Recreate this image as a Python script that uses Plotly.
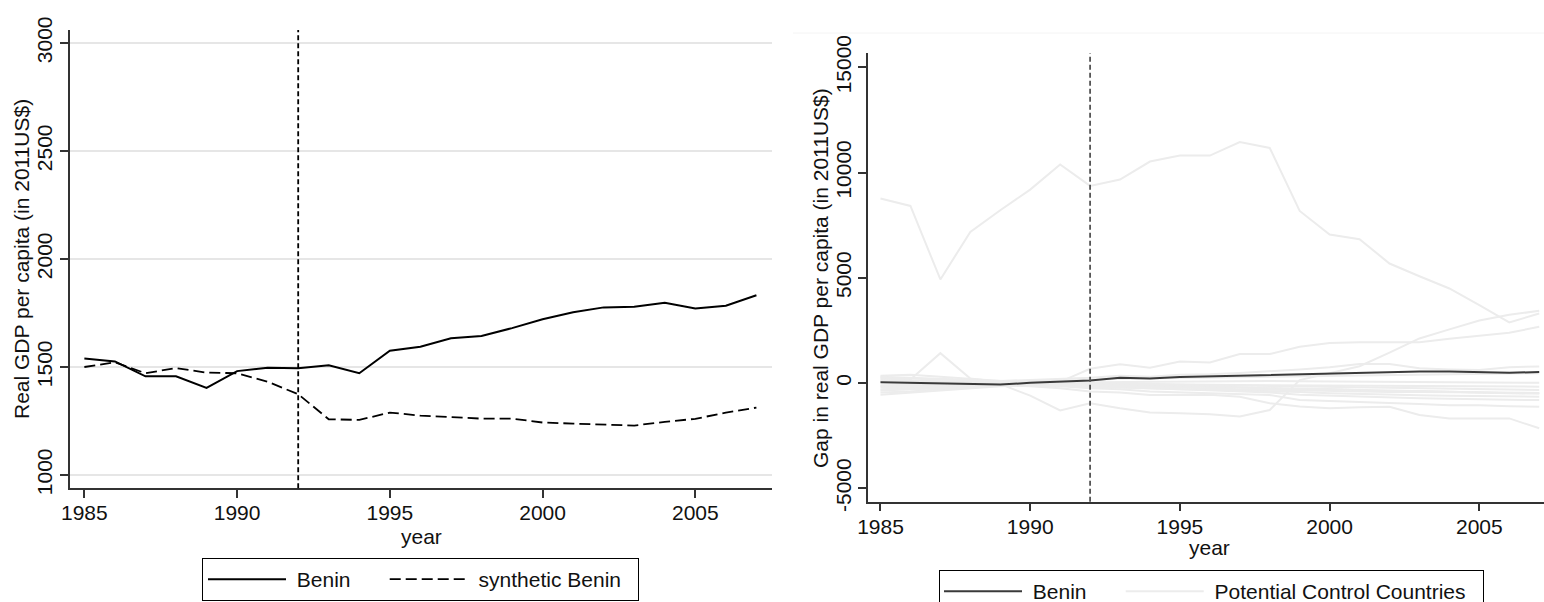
import plotly.graph_objects as go

W, H = 1544, 602

years = list(range(1985, 2008))
treatment_year = 1992

# Real GDP per capita (2011 US$)
benin_gdp = [1539, 1526, 1457, 1457, 1403, 1481, 1497, 1494, 1508, 1471, 1575, 1594,
             1633, 1644, 1680, 1721, 1753, 1776, 1779, 1797, 1771, 1784, 1832]
synthetic_gdp = [1500, 1522, 1471, 1495, 1474, 1471, 1432, 1374, 1258, 1255, 1289, 1275,
                 1268, 1261, 1261, 1243, 1238, 1234, 1229, 1246, 1260, 1289, 1312]

# Gap between actual and synthetic GDP per capita
benin_gap = [a - s for a, s in zip(benin_gdp, synthetic_gdp)]

# Placebo gaps for the donor-pool countries
placebo_gaps = [
    [8765, 8414, 4920, 7180, 8210, 9190, 10380, 9365, 9667, 10522, 10807, 10807,
     11453, 11168, 8177, 7056, 6833, 5679, 5076, 4492, 3700, 2878, 3305],
    [-150, -100, -60, -30, -50, -600, -1300, -960, -1200, -1400, -1430, -1480,
     -1590, -1280, 140, 470, 800, 1450, 2120, 2550, 2970, 3240, 3430],
    [100, 50, 30, 20, 0, 20, 60, 680, 890, 730, 1020, 980,
     1380, 1380, 1720, 1900, 1940, 1940, 1940, 2100, 2230, 2390, 2670],
    [220, 170, 1420, 220, 50, 30, 10, -30, -80, -50, -150, -120,
     -200, -250, -300, -280, -350, -400, -380, -420, -450, -480, -500],
    [350, 400, 300, 200, 100, 150, 200, 250, 350, 300, 400, 420,
     480, 550, 650, 750, 900, 900, 700, 650, 620, 750, 790],
    [-450, -400, -300, -200, -100, -150, -250, -400, -450, -570, -560, -550,
     -650, -960, -1110, -1200, -1150, -1125, -1520, -1680, -1680, -1680, -2150],
    [-300, -250, -200, -150, -80, -100, -150, -250, -300, -400, -450, -500,
     -550, -570, -810, -850, -900, -950, -1000, -1050, -1050, -1100, -1125],
    [-200, -180, -150, -100, -50, -60, -100, -150, -200, -250, -300, -350,
     -400, -450, -550, -600, -650, -700, -720, -750, -780, -800, -810],
    [-550, -450, -350, -250, -150, -100, -120, -180, -220, -280, -300, -320,
     -350, -380, -420, -480, -520, -560, -580, -600, -620, -640, -650],
    [150, 100, 80, 50, 20, 0, -20, -60, -100, -120, -150, -200,
     -220, -250, -280, -300, -350, -380, -400, -420, -450, -470, -490],
    [300, 250, 200, 150, 80, 60, 40, 20, -20, -50, -80, -100,
     -130, -150, -180, -200, -220, -250, -270, -290, -310, -320, -330],
    [-100, -80, -60, -40, -20, -10, 0, -20, -40, -60, -70, -80,
     -90, -100, -110, -120, -130, -140, -150, -160, -165, -170, -170],
    [50, 40, 30, 20, 10, 20, 30, 40, 60, 80, 90, 100,
     110, 100, 90, 80, 70, 60, 50, 40, 30, 20, 10],
    [250, 200, 150, 120, 80, 100, 120, 150, 200, 220, 250, 280,
     300, 320, 340, 360, 380, 400, 420, 440, 450, 460, 470],
    [-350, -300, -250, -180, -120, -80, -60, -100, -150, -200, -250, -280,
     -300, -320, -350, -380, -400, -420, -430, -440, -450, -460, -470],
]

left_yticks = [1000, 1500, 2000, 2500, 3000]
right_yticks = [-5000, 0, 5000, 10000, 15000]
xticks = [1985, 1990, 1995, 2000, 2005]

FONT = "Liberation Sans, Arial, sans-serif"
FS = 21
AXIS_COLOR = "#333333"
TEXT_COLOR = "#111111"
PLACEBO_COLOR = "#ececec"
NB = "\u00a0"


def px_x(v):
    return v / W


def px_y(v):
    return 1 - v / H


def entry(label, trailing):
    # legend label with Stata-like spacing around the key
    return NB + label + NB * trailing


fig = go.Figure()

# Left panel: Benin vs. synthetic Benin
fig.add_trace(go.Scatter(x=years, y=benin_gdp, mode="lines", name=entry("Benin", 5),
                         line=dict(color="black", width=2),
                         xaxis="x", yaxis="y", legend="legend"))
fig.add_trace(go.Scatter(x=years, y=synthetic_gdp, mode="lines",
                         name=entry("synthetic Benin", 2),
                         line=dict(color="black", width=1.8, dash="11px,5px"),
                         xaxis="x", yaxis="y", legend="legend"))

# Right panel: placebo gaps underneath, Benin on top
for i, gap in enumerate(placebo_gaps):
    fig.add_trace(go.Scatter(x=years, y=gap, mode="lines",
                             name=entry("Potential Control Countries", 2),
                             legendgroup="placebo", showlegend=(i == 0), legendrank=2,
                             line=dict(color=PLACEBO_COLOR, width=2),
                             xaxis="x2", yaxis="y2", legend="legend2"))
fig.add_trace(go.Scatter(x=years, y=benin_gap, mode="lines", name=entry("Benin", 5),
                         legendrank=1, line=dict(color="#3a3a3a", width=2),
                         xaxis="x2", yaxis="y2", legend="legend2"))

axis_common = dict(showline=True, linecolor=AXIS_COLOR, linewidth=1.5,
                   ticks="outside", ticklen=8, tickwidth=1.5, tickcolor=AXIS_COLOR,
                   tickfont=dict(size=FS, color=TEXT_COLOR, family=FONT),
                   zeroline=False, fixedrange=True, automargin=False)

legend_common = dict(orientation="h", xanchor="left", yanchor="top",
                     bordercolor="black", borderwidth=1, bgcolor="white",
                     font=dict(size=FS, family=FONT, color=TEXT_COLOR), itemwidth=78)

fig.update_layout(
    template="none",
    width=W, height=H,
    margin=dict(l=0, r=0, t=0, b=0, pad=0, autoexpand=False),
    paper_bgcolor="white", plot_bgcolor="white",
    font=dict(family=FONT, size=FS, color=TEXT_COLOR),
    xaxis=dict(axis_common, domain=[px_x(70), px_x(772)], range=[1984.53, 2007.51],
               tickvals=xticks, showgrid=False, anchor="y", ticklabelstandoff=-3),
    yaxis=dict(axis_common, domain=[px_y(488.3), px_y(30)], range=[938.4, 3060.2],
               tickvals=left_yticks, ticktext=[str(v) for v in left_yticks],
               tickangle=-90, showgrid=True, gridcolor="#e6e6e6", gridwidth=1.5,
               anchor="x", ticklabelstandoff=0),
    xaxis2=dict(axis_common, domain=[px_x(867.5), 1.0], range=[1984.566, 2007.16],
                tickvals=xticks, showgrid=False, anchor="y2", ticklabelstandoff=-3),
    yaxis2=dict(axis_common, domain=[px_y(501.7), px_y(53.3)], range=[-5636, 15665],
                tickvals=right_yticks, ticktext=[str(v) for v in right_yticks],
                tickangle=-90, showgrid=False, anchor="x2", ticklabelstandoff=-2),
    legend=dict(legend_common, x=px_x(202), y=px_y(558)),
    legend2=dict(legend_common, x=px_x(939), y=px_y(570)),
    showlegend=True,
)

# Treatment year markers
fig.add_shape(type="line", x0=treatment_year, x1=treatment_year, xref="x",
              y0=0, y1=1, yref="y domain",
              line=dict(color="black", width=1.8, dash="5px,3px"))
fig.add_shape(type="line", x0=treatment_year, x1=treatment_year, xref="x2",
              y0=0, y1=1, yref="y2 domain",
              line=dict(color="#555555", width=1.8, dash="5px,3px"))

# Faint frame edge above the right-hand graph
fig.add_shape(type="line", x0=px_x(793), x1=1.0, y0=px_y(33), y1=px_y(33),
              xref="paper", yref="paper", line=dict(color="#f4f4f4", width=1))

# Axis titles
title_font = dict(size=FS, family=FONT, color=TEXT_COLOR)
titles = [
    ("Real GDP per capita (in 2011US$)", 21, 259, -90),
    ("Gap in real GDP per capita (in 2011US$)", 820, 278, -90),
    ("year", 421, 536, 0),
    ("year", 1209, 547, 0),
]
for text, tx, ty, angle in titles:
    fig.add_annotation(text=text, textangle=angle, x=px_x(tx), y=px_y(ty),
                       xref="paper", yref="paper", xanchor="center", yanchor="middle",
                       showarrow=False, font=title_font)

fig.write_html("out.html")
